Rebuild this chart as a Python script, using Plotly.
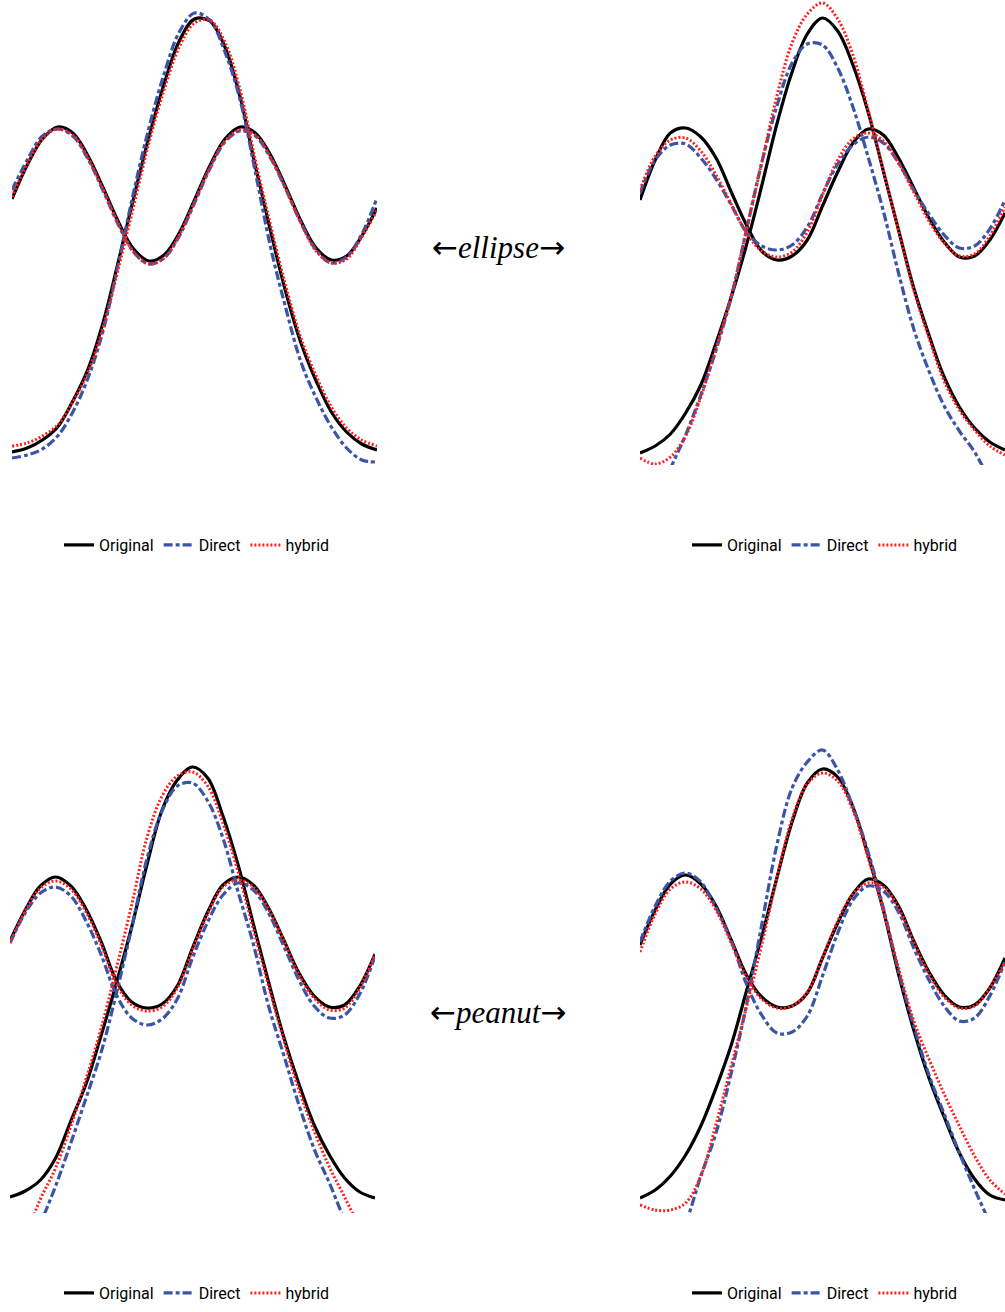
import plotly.graph_objects as go

# Common abscissa (angle, degrees)
angle = list(range(0, 361, 15))

# ---------------- Top-left panel (ellipse, case 1) ----------------
tl_original_peak = [18,22,30,43,69,101,148,209,272,333,386,429,451,449,423,373,304,239,178,127,89,58,38,26,20]
tl_direct_peak   = [12,15,21,34,58,92,140,207,278,342,396,438,457,450,418,370,298,223,162,108,72,43,22,10,8]
tl_hybrid_peak   = [24,27,34,45,68,98,143,202,264,327,380,423,447,450,428,380,310,245,184,132,94,63,42,30,24]
tl_original_wave = [271,305,331,343,337,314,282,248,221,209,215,237,270,304,331,343,337,315,283,249,222,210,214,234,262]
tl_direct_wave   = [280,310,334,341,334,311,279,245,218,206,212,234,267,301,328,339,334,312,281,247,220,207,213,236,272]
tl_hybrid_wave   = [273,306,331,341,335,312,280,246,218,206,212,235,268,302,329,340,335,313,281,247,219,207,211,233,260]

# ---------------- Top-right panel (ellipse, case 2) ----------------
tr_original_peak = [17,24,36,57,85,127,173,225,284,346,398,436,452,439,405,358,299,240,182,135,93,63,42,28,20]
tr_direct_peak   = [-90,-42,1,35,75,120,173,240,307,364,407,426,425,402,363,313,259,197,141,99,64,39,18,-10,-35]
tr_hybrid_peak   = [12,6,13,34,73,122,174,240,307,374,427,456,467,451,415,360,300,240,180,132,89,60,40,24,15]
tr_original_wave = [270,310,337,342,333,312,278,245,219,210,214,230,264,298,327,341,335,312,282,252,228,213,214,230,257]
tr_direct_wave   = [277,310,325,326,312,291,265,238,224,220,225,243,276,306,325,333,327,307,280,256,235,222,224,241,270]
tr_hybrid_wave   = [280,314,330,332,319,295,266,237,219,213,218,238,275,310,331,337,329,307,278,249,227,214,216,234,263]

# ---------------- Bottom-left panel (peanut, case 1) ----------------
bl_original_peak = [21,27,38,60,97,134,183,235,291,353,408,438,451,440,402,353,294,236,181,134,93,63,40,26,20]
bl_direct_peak   = [-85,-45,-6,32,75,120,166,225,290,359,407,432,435,417,380,326,274,212,163,113,69,35,-2,-35,-70]
bl_hybrid_peak   = [-60,-20,19,50,92,139,190,250,313,380,422,442,446,432,395,346,289,232,178,128,87,51,21,-10,-40]
bl_original_wave = [277,308,332,341,332,309,276,237,216,210,214,232,270,306,333,341,333,310,278,245,222,211,213,232,264]
bl_direct_wave   = [275,305,325,331,322,297,263,223,200,193,199,219,260,296,323,335,328,305,272,238,212,200,203,224,262]
bl_hybrid_wave   = [275,307,330,337,329,306,273,234,213,207,211,230,268,304,331,338,331,309,277,243,220,208,210,230,264]

# ---------------- Bottom-right panel (peanut, case 2) ----------------
br_original_peak = [20,28,42,63,92,130,173,227,281,340,396,435,449,441,411,363,308,244,188,140,101,65,39,23,18]
br_direct_peak   = [-110,-70,-35,-5,42,85,145,213,293,373,430,456,468,448,411,366,310,247,192,143,104,65,29,-5,-40]
br_hybrid_peak   = [13,8,8,15,42,94,152,211,273,340,399,434,445,437,408,360,308,250,197,159,124,92,62,38,24]
br_original_wave = [273,308,334,343,334,312,278,243,221,211,212,225,260,295,324,339,333,312,277,246,223,211,213,230,260]
br_direct_wave   = [276,312,337,345,336,310,277,234,203,185,186,202,242,285,318,332,327,306,270,238,212,197,200,222,256]
br_hybrid_wave   = [266,304,329,336,329,308,275,241,219,210,212,226,260,297,324,335,331,310,276,244,221,210,212,230,256]

series_names = ["Original", "Direct", "hybrid"]
shape_label_top = "ellipse"
shape_label_bottom = "peanut"

W, H = 1005, 1312
BLACK = "#000000"
BLUE = "#3a54a6"
RED = "#ff1f1f"
styles = {
    "Original": dict(color=BLACK, width=3.2, dash="solid"),
    "Direct": dict(color=BLUE, width=3.2, dash="9px,3px,4px,3px"),
    "hybrid": dict(color=RED, width=3.0, dash="2px,2px"),
}

def px_dom(a, b):
    return [a / W, min(b / W, 1.0)]

def py_dom(top, bottom):
    return [1 - bottom / H, 1 - top / H]

panels = [
    dict(name="tl", xd=px_dom(12, 377), yd=py_dom(0, 465), legend="legend",
         data={"Original": (tl_original_peak, tl_original_wave),
               "Direct": (tl_direct_peak, tl_direct_wave),
               "hybrid": (tl_hybrid_peak, tl_hybrid_wave)}),
    dict(name="tr", xd=px_dom(640, 1005), yd=py_dom(0, 465), legend="legend2",
         data={"Original": (tr_original_peak, tr_original_wave),
               "Direct": (tr_direct_peak, tr_direct_wave),
               "hybrid": (tr_hybrid_peak, tr_hybrid_wave)}),
    dict(name="bl", xd=px_dom(10, 375), yd=py_dom(748, 1213), legend="legend3",
         data={"Original": (bl_original_peak, bl_original_wave),
               "Direct": (bl_direct_peak, bl_direct_wave),
               "hybrid": (bl_hybrid_peak, bl_hybrid_wave)}),
    dict(name="br", xd=px_dom(640, 1005), yd=py_dom(748, 1213), legend="legend4",
         data={"Original": (br_original_peak, br_original_wave),
               "Direct": (br_direct_peak, br_direct_wave),
               "hybrid": (br_hybrid_peak, br_hybrid_wave)}),
]

fig = go.Figure()
layout = dict(width=W, height=H, margin=dict(l=0, r=0, t=0, b=0),
              paper_bgcolor="white", plot_bgcolor="white", autosize=False)

legend_font = dict(family="Roboto, Liberation Sans, Arial, sans-serif", size=16, color="black")
legend_pos = {"legend": (197, 545), "legend2": (825, 545), "legend3": (197, 1293), "legend4": (825, 1293)}

for i, p in enumerate(panels):
    k = "" if i == 0 else str(i + 1)
    xa, ya = "x" + k, "y" + k
    for name in series_names:
        peak, wave = p["data"][name]
        st = styles[name]
        for j, yv in enumerate((peak, wave)):
            fig.add_trace(go.Scatter(
                x=angle, y=yv, mode="lines", name=name,
                line=dict(color=st["color"], width=st["width"], dash=st["dash"], shape="spline", smoothing=1.0),
                xaxis=xa, yaxis=ya, legend=p["legend"], showlegend=(j == 0),
                legendgroup=p["name"] + name, hoverinfo="skip"))
    layout["xaxis" + k] = dict(domain=p["xd"], range=[0, 360], visible=False, anchor=ya)
    layout["yaxis" + k] = dict(domain=p["yd"], range=[5, 470], visible=False, anchor=xa)
    lx, ly = legend_pos[p["legend"]]
    layout[p["legend"]] = dict(orientation="h", x=lx / W, y=1 - ly / H, xanchor="center", yanchor="middle",
                               font=legend_font, bgcolor="rgba(0,0,0,0)", itemwidth=30,
                               traceorder="normal")

fig.update_layout(**layout)

ann_font = dict(family="Liberation Serif, Times New Roman, DejaVu Serif, serif", size=31, color="black")
arrow_l = '<span style="font-family:DejaVu Sans">\u2190</span>'
arrow_r = '<span style="font-family:DejaVu Sans">\u2192</span>'
for label, ypix in ((shape_label_top, 247), (shape_label_bottom, 1012)):
    fig.add_annotation(text=arrow_l + "<i>" + label + "</i>" + arrow_r, x=498 / W, y=1 - ypix / H,
                       xref="paper", yref="paper", showarrow=False, font=ann_font,
                       xanchor="center", yanchor="middle")

fig.write_html("out.html", config={"displayModeBar": False},
               post_script="document.body.style.margin='0px';document.body.style.padding='0px';")
